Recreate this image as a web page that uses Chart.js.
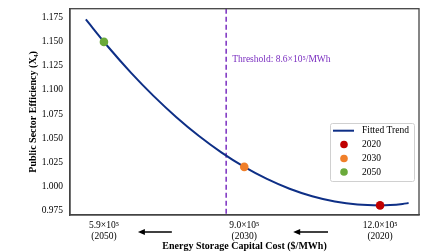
<!DOCTYPE html>
<html><head><meta charset="utf-8">
<script src="https://cdn.jsdelivr.net/npm/chart.js@4"></script>
<style>html,body{margin:0;padding:0;background:#fff}#c{display:block}</style>
</head><body><canvas id="c" width="448" height="252"></canvas>
<script>
// Fitted trend
const trendX = [5.5, 6.0, 6.5, 7.0, 7.5, 8.0, 8.5, 9.0, 9.5, 10.0, 10.5, 11.0, 11.5, 12.0, 12.5, 12.63];
const trendY = [1.1733, 1.1444, 1.1178, 1.0936, 1.0717, 1.0521, 1.0349, 1.0200, 1.0075, 0.9973, 0.9895, 0.9840, 0.9808, 0.9800, 0.9815, 0.9824];
// Year markers
const yearLabels = ['2020', '2030', '2050'];
const yearX = [12.0, 9.0, 5.9];
const yearY = [0.980, 1.020, 1.150];
const yearColors = ['#c00000', '#f07f2a', '#6aaa3a'];
// Ticks
const xTickValues = [5.9, 9.0, 12.0];
const xTickLabels = [['5.9×10⁵', '(2050)'], ['9.0×10⁵', '(2030)'], ['12.0×10⁵', '(2020)']];
const yTickValues = [0.975, 1.000, 1.025, 1.050, 1.075, 1.100, 1.125, 1.150, 1.175];
// Threshold and arrows (data coordinates: from, to)
const thresholdX = 8.6;
const thresholdLabel = 'Threshold: 8.6×10⁵/MWh';
const arrowFrom = [7.4, 10.85];
const arrowTo = [6.65, 10.08];

const SERIF = '"Liberation Serif", "DejaVu Serif", serif';
const navy = '#0e2f86';
const purple = '#7b2fc0';

const datasets = [{
  label: 'Fitted Trend',
  data: trendX.map((x, i) => ({x, y: trendY[i]})),
  borderColor: navy, backgroundColor: navy, borderWidth: 2,
  pointRadius: 0, tension: 0.4, cubicInterpolationMode: 'monotone', order: 2
}];
yearLabels.forEach((lab, i) => {
  datasets.push({
    label: lab, type: 'scatter',
    data: [{x: yearX[i], y: yearY[i]}],
    backgroundColor: yearColors[i], borderColor: yearColors[i],
    pointRadius: 4.3, pointBorderWidth: 0, order: 1
  });
});

const extras = {
  id: 'extras',
  beforeDatasetsDraw(chart) {
    const {ctx, chartArea: a, scales: {x}} = chart;
    const px = x.getPixelForValue(thresholdX);
    ctx.save();
    ctx.strokeStyle = purple; ctx.lineWidth = 1.5; ctx.setLineDash([5, 3]);
    ctx.beginPath(); ctx.moveTo(px, a.top); ctx.lineTo(px, a.bottom); ctx.stroke();
    ctx.setLineDash([]);
    ctx.fillStyle = purple; ctx.font = '9.5px ' + SERIF;
    ctx.textBaseline = 'middle'; ctx.textAlign = 'left';
    ctx.fillText(thresholdLabel, px + 6, 59);
    ctx.restore();
  },
  afterDraw(chart) {
    const {ctx, chartArea: a, scales: {x}} = chart;
    ctx.save();
    // frame
    ctx.strokeStyle = '#444'; ctx.lineWidth = 1.3;
    ctx.strokeRect(a.left, a.top, a.right - a.left, a.bottom - a.top);
    // arrows
    const ay = 232;
    ctx.strokeStyle = '#000'; ctx.fillStyle = '#000'; ctx.lineWidth = 1.5;
    arrowFrom.forEach((f, i) => {
      const x1 = x.getPixelForValue(f), x2 = x.getPixelForValue(arrowTo[i]);
      const dir = Math.sign(x2 - x1);
      ctx.beginPath(); ctx.moveTo(x1, ay); ctx.lineTo(x2 - dir * 5, ay); ctx.stroke();
      ctx.beginPath(); ctx.moveTo(x2, ay); ctx.lineTo(x2 - dir * 7, ay - 3); ctx.lineTo(x2 - dir * 7, ay + 3); ctx.closePath(); ctx.fill();
    });
    // legend
    const lx = 330, ly = 123, lw = 84, lh = 58;
    ctx.fillStyle = 'rgba(255,255,255,0.85)'; ctx.strokeStyle = '#d0d0d0'; ctx.lineWidth = 1;
    ctx.beginPath(); ctx.roundRect(lx + 0.5, ly + 0.5, lw, lh, 2); ctx.fill(); ctx.stroke();
    ctx.font = '9.5px ' + SERIF; ctx.textBaseline = 'middle'; ctx.textAlign = 'left';
    const rows = [130.7, 144.5, 158.5, 172];
    chart.data.datasets.forEach((ds, i) => {
      const ry = rows[i];
      if (i === 0) {
        ctx.strokeStyle = ds.borderColor; ctx.lineWidth = 2;
        ctx.beginPath(); ctx.moveTo(333, ry); ctx.lineTo(354, ry); ctx.stroke();
      } else {
        ctx.fillStyle = ds.backgroundColor;
        ctx.beginPath(); ctx.arc(344, ry, 3.8, 0, Math.PI * 2); ctx.fill();
      }
      ctx.fillStyle = '#000';
      ctx.fillText(ds.label, 362, ry);
    });
    ctx.restore();
  }
};

new Chart(document.getElementById('c'), {
  type: 'line',
  data: {datasets},
  options: {
    responsive: false, animation: false,
    layout: {padding: {left: 0, right: 29, top: 1, bottom: 0}},
    plugins: {legend: {display: false}, tooltip: {enabled: false}},
    scales: {
      x: {
        type: 'linear', min: 5.15, max: 12.86,
        afterBuildTicks: s => { s.ticks = xTickValues.map(v => ({value: v})); },
        afterFit: s => { s.height = 37; },
        ticks: {
          autoSkip: false, maxRotation: 0, padding: 1,
          font: {family: SERIF, size: 9.5, lineHeight: 1.15}, color: '#000',
          callback: (v) => { const i = xTickValues.indexOf(v); return i >= 0 ? xTickLabels[i] : ''; }
        },
        grid: {display: false, drawTicks: true, tickLength: 4, tickColor: '#444'},
        border: {display: true, color: '#444', width: 1.3},
        title: {display: true, text: 'Energy Storage Capital Cost ($/MWh)', color: '#000',
          font: {family: SERIF, size: 10, weight: 'bold'}, padding: {top: 0, bottom: 0}}
      },
      y: {
        type: 'linear', min: 0.97, max: 1.1845,
        afterBuildTicks: s => { s.ticks = yTickValues.map(v => ({value: v})); },
        afterFit: s => { s.width = 70; },
        ticks: {padding: 3, font: {family: SERIF, size: 9.5}, color: '#000',
          callback: v => v.toFixed(3)},
        grid: {display: false, drawTicks: true, tickLength: 4, tickColor: '#444'},
        border: {display: true, color: '#444', width: 1.3},
        title: {display: true, text: 'Public Sector Efficiency (X₄)', color: '#000',
          font: {family: SERIF, size: 10, weight: 'bold'}, padding: {top: 27, bottom: 0}}
      }
    }
  },
  plugins: [extras]
});
</script>
</body></html>
